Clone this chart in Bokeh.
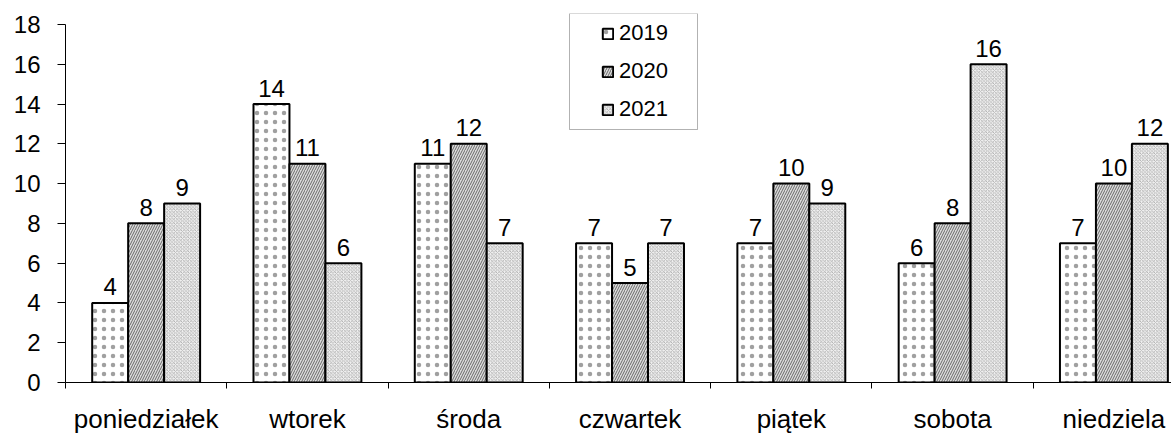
from bokeh.plotting import figure
from bokeh.models import (ColumnDataSource, Range1d, FixedTicker, SingleIntervalTicker,
                          Legend, LegendItem, BoxAnnotation)
from bokeh.core.properties import value
from bokeh.embed import file_html
from bokeh.resources import INLINE

days = ["poniedziałek", "wtorek", "środa", "czwartek", "piątek", "sobota", "niedziela"]
years = ["2019", "2020", "2021"]
v2019 = [4, 14, 11, 7, 7, 6, 7]
v2020 = [8, 11, 12, 5, 10, 8, 10]
v2021 = [9, 6, 7, 7, 9, 16, 12]

FONT = "Liberation Sans"
BAR_W = 0.223

p = figure(width=1171, height=436, output_backend="svg", toolbar_location=None,
           x_range=Range1d(0, 6.857), y_range=Range1d(0, 18.55),
           min_border_left=65, min_border_right=0, min_border_top=13, min_border_bottom=52)
p.outline_line_color = None
p.xgrid.visible = False
p.ygrid.visible = False
p.background_fill_color = "white"

centers = [i + 0.5 for i in range(len(days))]
series = [v2019, v2020, v2021]
offsets = [-BAR_W, 0.0, BAR_W]
styles = [
    dict(fill_color="white", hatch_pattern="dot", hatch_color="#a0a0a0", hatch_scale=9, hatch_weight=1),
    dict(fill_color="#dcdcdc", hatch_pattern="right_diagonal_line", hatch_color="#5a5a5a", hatch_scale=5, hatch_weight=0.9),
    dict(fill_color="#f0f0f0", hatch_pattern="diagonal_cross", hatch_color="#a8a8a8", hatch_scale=3.5, hatch_weight=0.8),
]

renderers = []
for vals, off, st in zip(series, offsets, styles):
    src = ColumnDataSource(dict(x=[c + off for c in centers], top=vals,
                                lab=[str(v) for v in vals]))
    r = p.vbar(x="x", top="top", width=BAR_W, bottom=0, source=src,
               line_color="black", line_width=2, **st)
    renderers.append(r)
    p.text(x="x", y="top", text="lab", source=src, text_align="center",
           text_baseline="alphabetic", y_offset=-16,
           text_font=value(FONT), text_font_size="24px", text_color="black")

# y axis
ya = p.yaxis[0]
ya.ticker = SingleIntervalTicker(interval=2, num_minor_ticks=0)
ya.bounds = (0, 18)
ya.axis_line_color = "black"
ya.axis_line_width = 1
ya.major_tick_out = 8
ya.major_tick_in = 0
ya.minor_tick_out = 0
ya.minor_tick_in = 0
ya.major_label_standoff = 17
ya.major_label_text_font = FONT
ya.major_label_text_font_size = "24px"
ya.major_label_text_color = "black"

# x axis
xa = p.xaxis[0]
xa.ticker = FixedTicker(ticks=centers, minor_ticks=list(range(len(days) + 1)))
xa.major_label_overrides = {c: d for c, d in zip(centers, days)}
xa.axis_line_color = "black"
xa.major_tick_out = 0
xa.major_tick_in = 0
xa.minor_tick_out = 6
xa.minor_tick_in = 0
xa.minor_tick_line_color = "black"
xa.major_label_standoff = 15
xa.major_label_text_font = FONT
xa.major_label_text_font_size = "26px"
xa.major_label_text_color = "black"

# legend frame
p.add_layout(BoxAnnotation(left=569, right=697, top=13, bottom=129,
                           left_units="canvas", right_units="canvas",
                           top_units="canvas", bottom_units="canvas",
                           fill_alpha=0, line_color="black", line_width=1))

legend = Legend(items=[LegendItem(label=y, renderers=[r]) for y, r in zip(years, renderers)],
                location=(536, 260), orientation="vertical",
                padding=0, margin=0, spacing=12, label_height=26, glyph_width=13, glyph_height=13,
                label_standoff=5, border_line_alpha=0, background_fill_alpha=0,
                label_text_font=FONT, label_text_font_size="22px", label_text_color="black")
p.add_layout(legend, "center")

open("out.html", "w").write(file_html(p, INLINE))
